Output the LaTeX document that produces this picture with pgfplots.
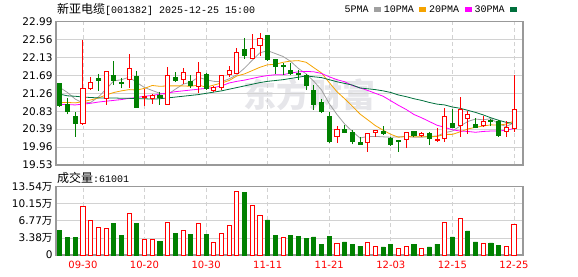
\documentclass[border=0pt]{standalone}
\usepackage{fontspec}
\setmainfont{DejaVu Sans}
\newfontfamily\cjk{Noto Sans CJK SC}
\newfontfamily\mono{Liberation Mono}
\usepackage{pgfplots}
\usepackage{pgfplotstable}
\pgfplotsset{compat=1.18}
\usepgfplotslibrary{statistics}

\definecolor{cred}{HTML}{FF0000}
\definecolor{cgreen}{HTML}{008000}
\definecolor{maA}{HTML}{A0A0A0}
\definecolor{maB}{HTML}{F5A300}
\definecolor{maC}{HTML}{FF00FF}
\definecolor{maD}{HTML}{00703C}
\definecolor{framec}{HTML}{999999}
\definecolor{gridc}{HTML}{D2D2D2}
\definecolor{wm}{HTML}{E6E6EA}

\pgfplotstableread{
i o h l c
0 21.49 21.50 20.95 20.96
1 20.98 21.14 20.75 20.82
2 20.71 20.80 20.21 20.53
3 20.54 22.55 20.50 21.38
4 21.38 21.65 21.34 21.53
5 21.61 21.73 21.32 21.57
6 21.14 21.80 20.98 21.78
7 21.70 22.04 21.46 21.56
8 21.52 21.62 21.38 21.50
9 21.60 22.21 21.38 21.86
10 21.68 21.80 20.91 20.91
11 21.16 21.36 20.95 21.18
12 21.13 21.24 21.00 21.21
13 21.22 21.30 20.98 21.16
14 20.99 21.89 20.99 21.70
15 21.65 21.77 21.53 21.56
16 21.60 21.86 21.48 21.77
17 21.54 21.70 21.38 21.45
18 21.42 22.01 21.28 21.77
19 21.72 21.76 21.35 21.38
20 21.34 21.44 21.30 21.40
21 21.40 21.70 21.34 21.69
22 21.72 21.93 21.66 21.82
23 21.74 22.35 21.72 22.25
24 22.31 22.60 22.09 22.17
25 22.11 22.69 22.08 22.35
26 22.41 22.71 22.15 22.59
27 22.65 22.67 22.05 22.07
28 22.09 22.09 21.73 21.90
29 21.93 21.99 21.70 21.91
30 21.82 22.00 21.70 21.73
31 21.74 21.82 21.58 21.72
32 21.70 21.72 21.34 21.45
33 21.32 21.45 20.87 20.98
34 21.03 21.12 20.80 20.82
35 20.70 20.80 20.07 20.09
36 20.21 20.47 20.07 20.40
37 20.40 20.50 20.31 20.31
38 20.32 20.37 20.03 20.09
39 20.08 20.21 20.02 20.03
40 20.07 20.30 19.84 20.29
41 20.32 20.38 20.21 20.37
42 20.33 20.47 20.28 20.29
43 20.17 20.21 20.00 20.03
44 20.13 20.13 19.85 20.09
45 20.15 20.33 19.95 20.32
46 20.35 20.35 20.21 20.25
47 20.25 20.33 20.20 20.29
48 20.29 20.33 20.01 20.17
49 20.13 20.43 20.09 20.14
50 20.17 20.91 20.09 20.71
51 20.54 20.88 20.42 20.44
52 20.48 21.18 20.21 20.88
53 20.66 20.84 20.27 20.74
54 20.52 20.66 20.42 20.44
55 20.48 20.72 20.47 20.59
56 20.60 20.63 20.47 20.58
57 20.59 20.62 20.21 20.25
58 20.35 20.60 20.21 20.44
59 20.42 21.70 20.32 20.87
}\ohlc

\pgfplotstableread{
i ma5 ma10 ma20 ma30
0 21.40 21.04 20.99 21.24
1 21.28 21.04 20.99 21.20
2 21.12 21.03 20.98 21.19
3 21.03 21.06 21.00 21.17
4 21.04 21.10 21.02 21.16
5 21.17 21.15 21.05 21.15
6 21.36 21.22 21.07 21.15
7 21.56 21.28 21.09 21.15
8 21.59 21.32 21.11 21.14
9 21.65 21.35 21.14 21.14
10 21.52 21.34 21.16 21.13
11 21.40 21.38 21.19 21.13
12 21.33 21.45 21.21 21.12
13 21.26 21.43 21.24 21.13
14 21.23 21.44 21.27 21.15
15 21.36 21.44 21.30 21.17
16 21.48 21.44 21.32 21.19
17 21.53 21.43 21.34 21.21
18 21.65 21.46 21.36 21.23
19 21.59 21.41 21.38 21.26
20 21.55 21.46 21.40 21.29
21 21.54 21.51 21.44 21.32
22 21.61 21.57 21.51 21.36
23 21.71 21.68 21.55 21.40
24 21.87 21.73 21.58 21.44
25 22.06 21.81 21.62 21.48
26 22.24 21.89 21.66 21.52
27 22.29 21.95 21.69 21.55
28 22.22 21.96 21.71 21.57
29 22.15 22.01 21.71 21.59
30 22.03 22.04 21.75 21.62
31 21.86 22.05 21.78 21.65
32 21.73 22.01 21.79 21.68
33 21.55 21.88 21.78 21.66
34 21.34 21.75 21.74 21.64
35 21.01 21.52 21.66 21.59
36 20.75 21.30 21.59 21.54
37 20.52 21.13 21.54 21.50
38 20.34 20.95 21.45 21.46
39 20.18 20.76 21.39 21.39
40 20.22 20.62 21.33 21.37
41 20.22 20.48 21.26 21.35
42 20.21 20.37 21.19 21.32
43 20.20 20.27 21.08 21.28
44 20.21 20.20 20.97 21.22
45 20.22 20.22 20.87 21.18
46 20.20 20.21 20.75 21.13
47 20.20 20.21 20.67 21.09
48 20.22 20.21 20.58 21.04
49 20.23 20.22 20.49 21.00
50 20.31 20.27 20.44 20.98
51 20.35 20.27 20.38 20.93
52 20.47 20.33 20.35 20.90
53 20.58 20.40 20.34 20.85
54 20.64 20.44 20.32 20.80
55 20.62 20.47 20.34 20.74
56 20.65 20.50 20.35 20.67
57 20.52 20.49 20.35 20.61
58 20.46 20.52 20.37 20.56
59 20.55 20.59 20.41 20.53
}\ma

\pgfplotsset{
  upc/.style={draw=cred, fill=white, line width=0.9pt, solid, mark=none, forget plot},
  downc/.style={draw=cgreen, fill=cgreen, line width=0.9pt, solid, mark=none, forget plot},
}

\newcommand{\candle}[1]{%
  \pgfplotstablegetelem{#1}{o}\of\ohlc\let\cvo\pgfplotsretval
  \pgfplotstablegetelem{#1}{c}\of\ohlc\let\cvc\pgfplotsretval
  \pgfplotstablegetelem{#1}{h}\of\ohlc\let\cvh\pgfplotsretval
  \pgfplotstablegetelem{#1}{l}\of\ohlc\let\cvl\pgfplotsretval
  \ifdim\cvc pt<\cvo pt
    \def\cst{downc}\let\cLq\cvc\let\cUq\cvo
  \else
    \def\cst{upc}\let\cLq\cvo\let\cUq\cvc
  \fi
  \edef\tmp{\noexpand\addplot[\cst, boxplot prepared={draw position=#1, lower whisker=\cvl, lower quartile=\cLq, median=\cLq, upper quartile=\cUq, upper whisker=\cvh}] coordinates {};}%
  \tmp}

\begin{document}
\begin{tikzpicture}
\useasboundingbox (0,0) rectangle (578pt,276pt);

% watermark
\node[text=wm, font=\cjk\bfseries\fontsize{33}{33}\selectfont, inner sep=0pt] at (309pt,181pt) {东方财富};

% title
\node[anchor=west, inner sep=0pt] at (57pt,266.7pt) {{\cjk\fontsize{12}{12}\selectfont 新亚电缆}{\mono\fontsize{10}{10}\selectfont [001382] 2025-12-25 15:00}};
\node[anchor=west, inner sep=0pt] at (57pt,98.3pt) {{\cjk\fontsize{12}{12}\selectfont 成交量}{\mono\fontsize{10}{10}\selectfont :61001}};

\begin{axis}[
  at={(56pt,111pt)}, anchor=south west, scale only axis,
  width=467pt, height=143.3pt,
  xmin=-0.5, xmax=60.17, ymin=19.53, ymax=22.99,
  xtick={3,11,19,27,35,43,51,59}, xticklabels={},
  ytick={19.53,19.9625,20.395,20.8275,21.26,21.6925,22.125,22.5575,22.99},
  yticklabels={19.53,19.96,20.39,20.83,21.26,21.69,22.13,22.56,22.99},
  xmajorgrids, ymajorgrids,
  x grid style={gridc, line width=0.8pt, dash pattern=on 4pt off 3pt},
  y grid style={gridc, line width=0.8pt},
  major tick length=0pt,
  axis line style={draw=framec, line width=1.2pt},
  /pgf/number format/assume math mode=true,
  ticklabel style={font=\fontsize{10.5}{12}\selectfont},
  boxplot/draw direction=y,
  boxplot/box extend=0.53,
  boxplot/whisker extend=0,
  legend plot pos=right,
  legend image code/.code={\fill[#1] (0pt,-1.8pt) rectangle (6pt,1.8pt);},
  legend style={at={(0.9936,1.085)}, anchor=east, draw=none, fill=none,
    legend columns=4, font=\mono\fontsize{10}{11}\selectfont,
    nodes={inner sep=0.5pt},
    /tikz/every even column/.append style={column sep=2.5pt},
    /tikz/every odd column/.append style={column sep=5pt}},
]
\addplot[color=maA, line width=0.8pt, mark=none] table[x=i, y=ma5]{\ma};
\addlegendentry{5PMA}
\addplot[color=maB, line width=0.8pt, mark=none] table[x=i, y=ma10]{\ma};
\addlegendentry{10PMA}
\addplot[color=maC, line width=0.8pt, mark=none] table[x=i, y=ma20]{\ma};
\addlegendentry{20PMA}
\addplot[color=maD, line width=0.8pt, mark=none] table[x=i, y=ma30]{\ma};
\addlegendentry{30PMA}
\pgfplotsinvokeforeach{0,...,59}{\candle{#1}}
\end{axis}

\begin{axis}[
  at={(56pt,21pt)}, anchor=south west, scale only axis,
  width=467pt, height=68.3pt,
  xmin=-0.5, xmax=60.17, ymin=0, ymax=13.54,
  xtick={3,11,19,27,35,43,51,59},
  xticklabels={09-30,10-20,10-30,11-11,11-21,12-03,12-15,12-25},
  ytick={0,3.385,6.77,10.155,13.54},
  yticklabels={0,{3.38{\cjk 万}},{6.77{\cjk 万}},{10.15{\cjk 万}},{13.54{\cjk 万}}},
  xmajorgrids, ymajorgrids,
  x grid style={gridc, line width=0.8pt, dash pattern=on 4pt off 3pt},
  y grid style={gridc, line width=0.8pt},
  major tick length=0pt,
  axis line style={draw=framec, line width=1.2pt},
  /pgf/number format/assume math mode=true,
  ticklabel style={font=\fontsize{10.5}{12}\selectfont},
  xticklabel style={text=cred, font=\fontsize{10}{12}\selectfont, yshift=-3pt},
]
\addplot[ybar, bar width=4.1pt, bar shift=0pt, draw=cred, fill=white, line width=0.9pt, forget plot] coordinates {
(3,9.71) (4,6.94) (5,5.55) (6,5.35) (9,8.26) (11,3.17) (12,3.17) (14,6.47) (16,4.89) (18,6.27)
(20,2.51) (21,4.29) (22,5.88) (23,12.68) (25,9.84) (26,7.86) (29,3.57) (36,2.31) (40,2.51) (41,1.78)
(44,1.32) (45,1.78) (47,1.32) (50,6.47) (52,7.27) (55,2.31) (58,1.78) (59,6.10)};
\addplot[ybar, bar width=4.1pt, bar shift=0pt, draw=cgreen, fill=cgreen, line width=0.9pt, forget plot] coordinates {
(0,4.95) (1,3.43) (2,3.43) (7,6.34) (8,3.96) (10,6.34) (13,2.77) (15,4.36) (17,4.16) (19,4.16)
(24,12.48) (27,6.94) (28,3.96) (30,3.96) (31,3.76) (32,3.37) (33,3.57) (34,2.18) (35,3.76) (37,2.58)
(38,2.18) (39,1.78) (42,1.59) (43,2.18) (46,2.18) (48,1.59) (49,2.18) (51,3.57) (53,4.76) (54,2.58)
(56,2.38) (57,1.98)};
\end{axis}
\end{tikzpicture}
\end{document}
